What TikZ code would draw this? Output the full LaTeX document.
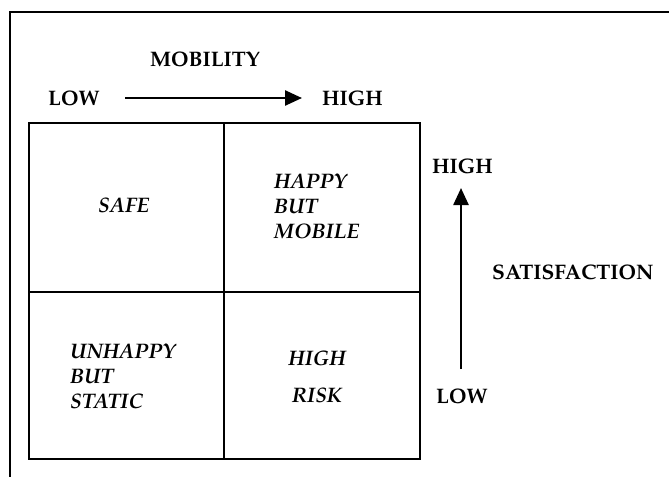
\documentclass[tikz,border=0pt]{standalone}
\usepackage[T1]{fontenc}
\usepackage{mathpazo}
\usetikzlibrary{arrows.meta}
\begin{document}
\begin{tikzpicture}[x=1pt,y=-1pt,
  lbl/.style={font=\fontsize{21}{26}\selectfont\bfseries, inner sep=0pt, anchor=base west},
  cell/.style={font=\fontsize{21}{25}\selectfont\bfseries\itshape, inner sep=0pt, align=left, anchor=north west},
  gridline/.style={line width=2.6pt},
  arr/.style={line width=2.5pt, -{Triangle[length=17pt,width=15pt]}}]
\useasboundingbox (0,0) rectangle (669,477);
% frame
\draw[line width=2.4pt] (669,12) -- (10,12) -- (10,477);
% grid
\draw[gridline] (29,123) rectangle (420,459);
\draw[gridline] (224,123) -- (224,459);
\draw[gridline] (29,292) -- (420,292);
% axis labels
\node[lbl] (mob) at (150,66) {MOBILITY};
\node[lbl] (lowm) at (48,105) {LOW};
\node[lbl] (highm) at (322,105) {HIGH};
\node[lbl] (highs) at (432,173) {HIGH};
\node[lbl] (sat) at (492,279) {SATISFACTION};
\node[lbl] (lows) at (436,403) {LOW};
% arrows
\coordinate (m0) at (125,98);
\coordinate (m1) at (302,98);
\coordinate (s0) at (461,369);
\coordinate (s1) at (461,188);
\draw[arr] (m0) -- (m1);
\draw[arr] (s0) -- (s1);
% cells
\node[cell] (safe) at (98,197) {SAFE};
\node[cell] (hbm) at (274,173) {HAPPY\\BUT\\MOBILE};
\node[cell] (ubs) at (70,343) {UNHAPPY\\BUT\\STATIC};
\node[cell, align=center, anchor=north] (hr) at (317,350) {HIGH\\[12pt]RISK};
\end{tikzpicture}
\end{document}
